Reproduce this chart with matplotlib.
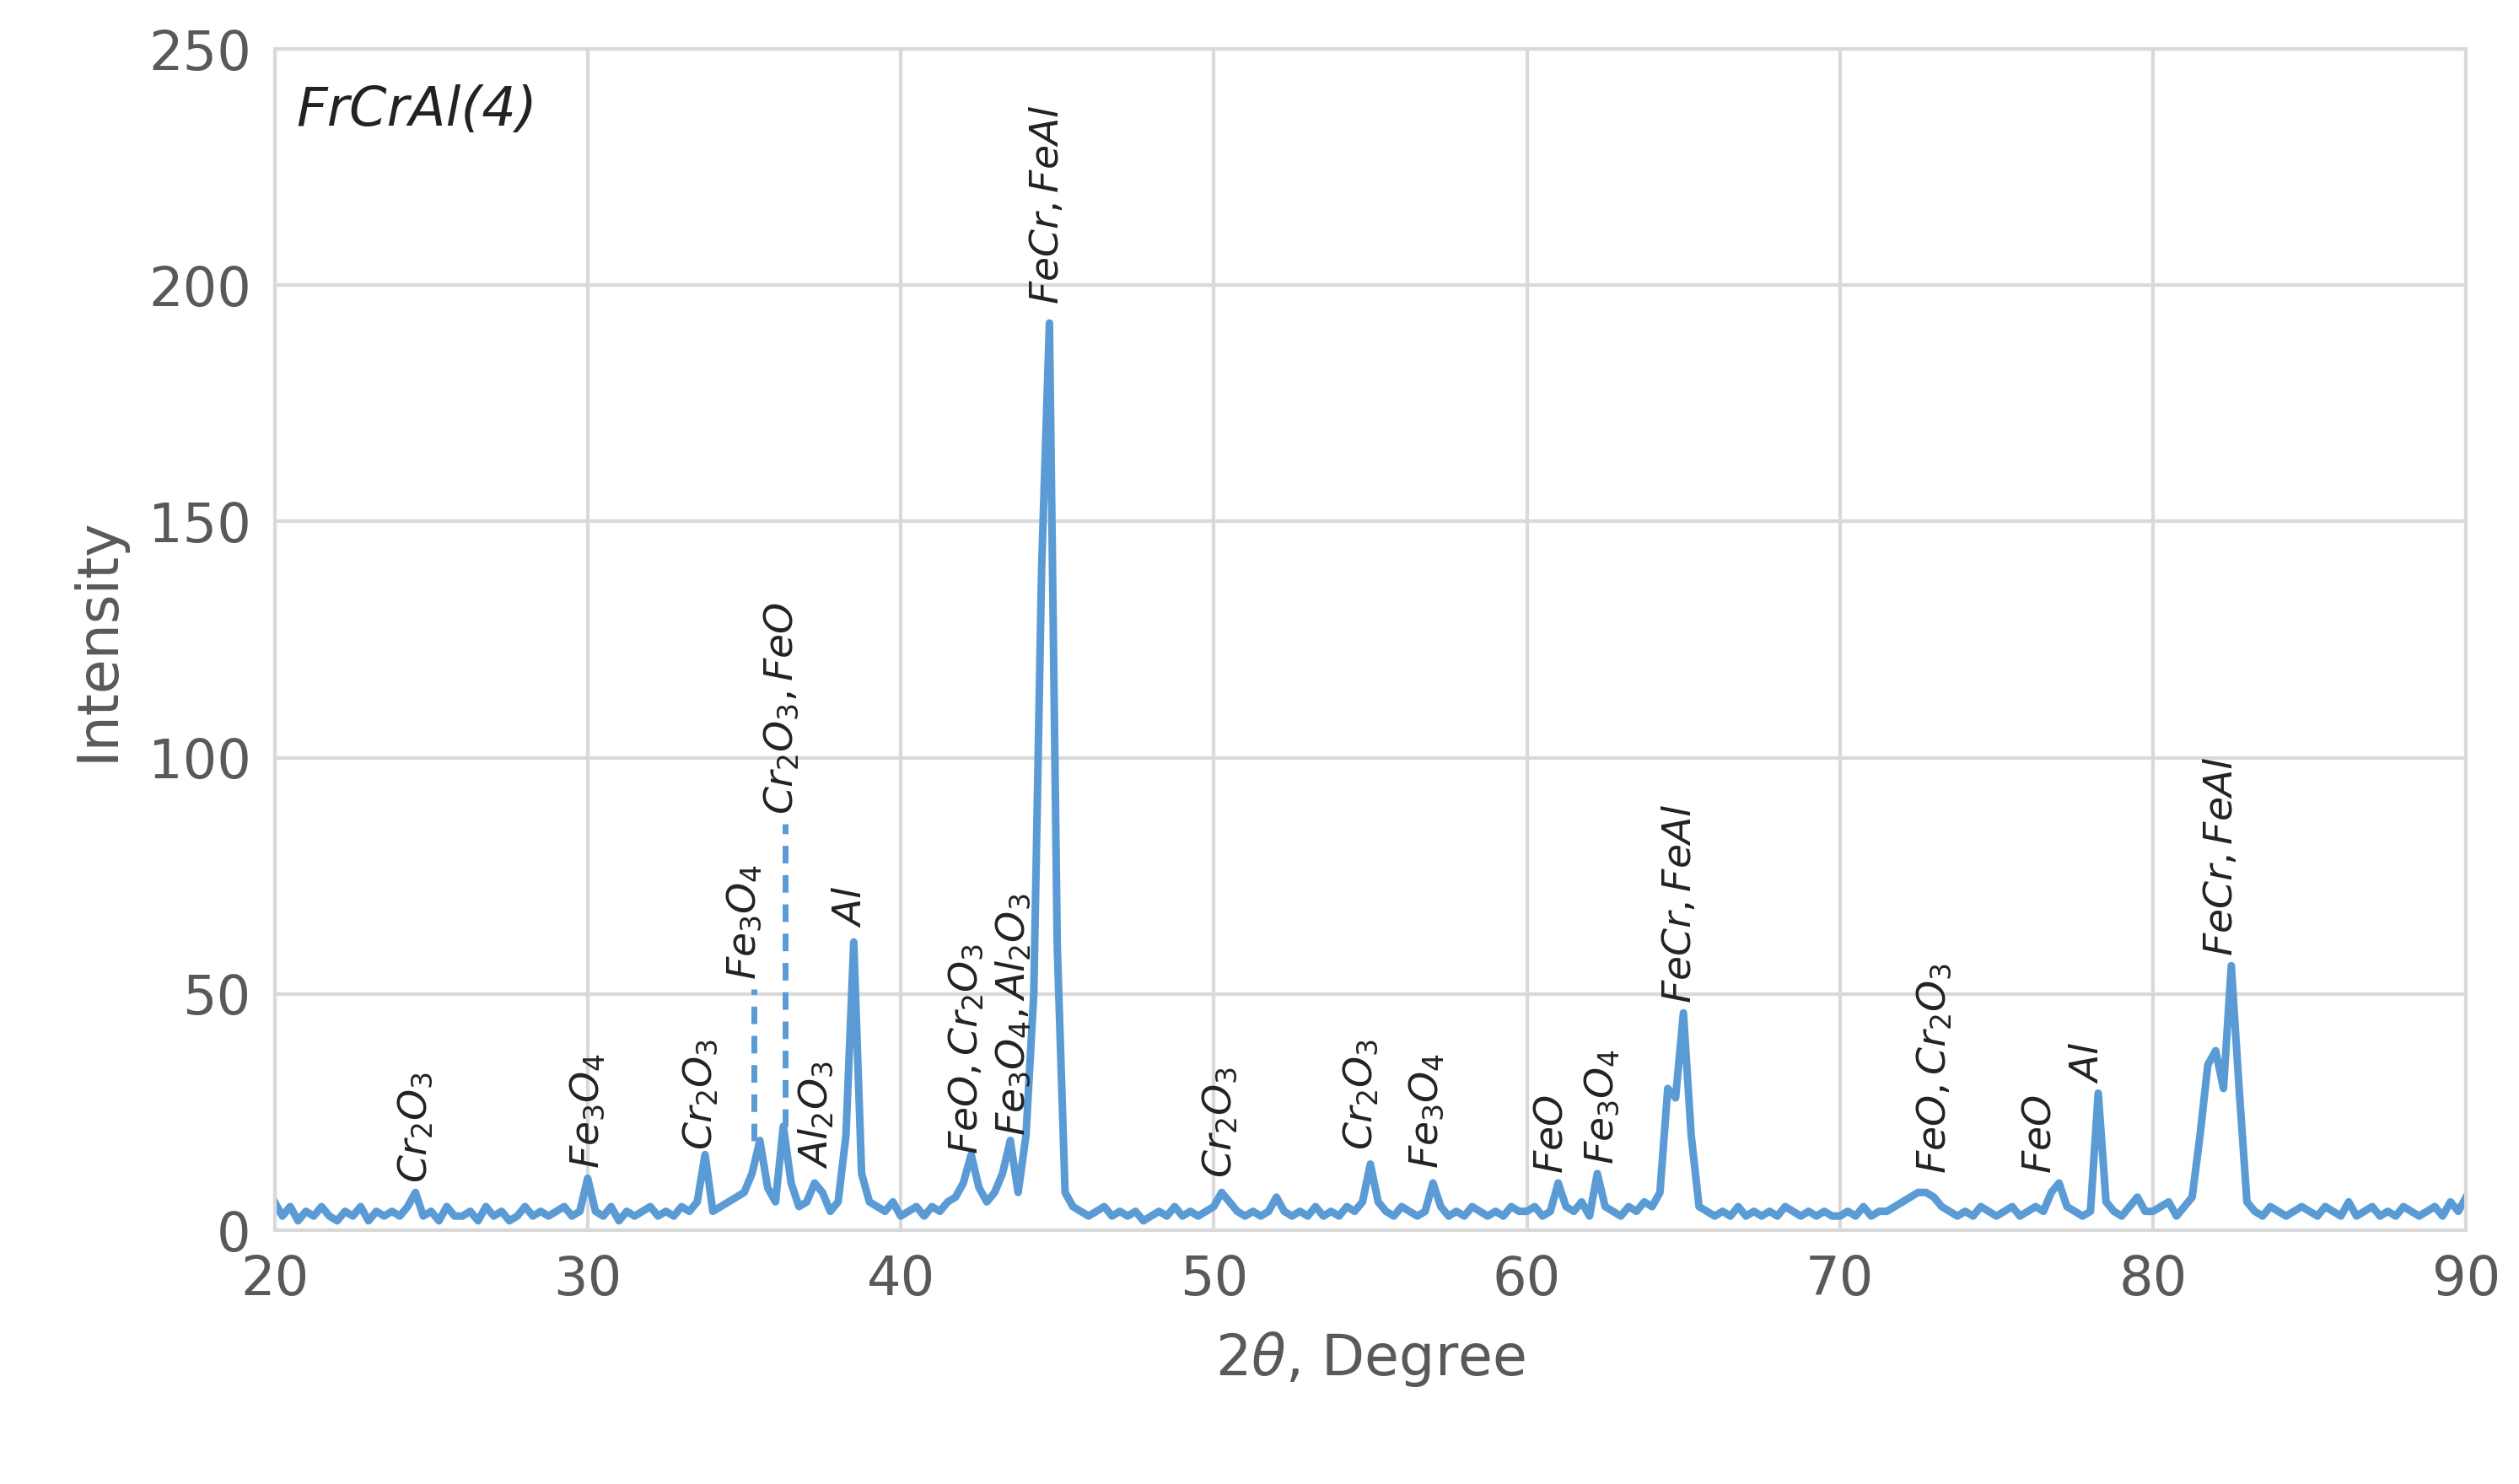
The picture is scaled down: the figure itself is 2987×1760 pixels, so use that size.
import numpy as np
import matplotlib
matplotlib.use("Agg")
import matplotlib.pyplot as plt

two_theta = [20 + 0.25 * i for i in range(281)]
intensity = [
 6,3,5,2,4,3,5,3,2,4,3,5,2,4,3,4,3,5,8,3,
 4,2,5,3,3,4,2,5,3,4,2,3,5,3,4,3,4,5,3,4,
 11,4,3,5,2,4,3,4,5,3,4,3,5,4,6,16,4,5,6,7,
 8,12,19,9,6,22,10,5,6,10,8,4,6,20,61,12,6,5,4,6,
 3,4,5,3,5,4,6,7,10,16,9,6,8,12,19,8,20,50,140,192,
 60,8,5,4,3,4,5,3,4,3,4,2,3,4,3,5,3,4,3,4,
 5,8,6,4,3,4,3,4,7,4,3,4,3,5,3,4,3,5,4,6,
 14,6,4,3,5,4,3,4,10,5,3,4,3,5,4,3,4,3,5,4,
 4,5,3,4,10,5,4,6,3,12,5,4,3,5,4,6,5,8,30,28,
 46,20,5,4,3,4,3,5,3,4,3,4,3,5,4,3,4,3,4,3,
 3,4,3,5,3,4,4,5,6,7,8,8,7,5,4,3,4,3,5,4,
 3,4,5,3,4,5,4,8,10,5,4,3,4,29,6,4,3,5,7,4,
 4,5,6,3,5,7,20,35,38,30,56,30,6,4,3,5,4,3,4,5,
 4,3,5,4,3,6,3,4,5,3,4,3,5,4,3,4,5,3,6,4,
 7]

label_x = [24.5, 30.0, 33.6, 35.0, 36.2, 37.3, 38.4, 42.1, 43.6, 44.7,
           50.2, 54.7, 56.8, 60.8, 62.4, 64.9, 73.0, 76.4, 77.9, 82.2]
label_y = [10, 13, 17, 53, 88, 13, 64, 16, 20, 196,
           11, 17, 13, 12, 14, 48, 12, 12, 31, 58]
label_text = [r'$Cr_2O_3$', r'$Fe_3O_4$', r'$Cr_2O_3$', r'$Fe_3O_4$', r'$Cr_2O_3, FeO$',
              r'$Al_2O_3$', r'$Al$', r'$FeO, Cr_2O_3$', r'$Fe_3O_4, Al_2O_3$', r'$FeCr, FeAl$',
              r'$Cr_2O_3$', r'$Cr_2O_3$', r'$Fe_3O_4$', r'$FeO$', r'$Fe_3O_4$', r'$FeCr, FeAl$',
              r'$FeO, Cr_2O_3$', r'$FeO$', r'$Al$', r'$FeCr, FeAl$']
dash_x = [35.3, 36.3]
dash_y0 = [19, 22]
dash_y1 = [51, 86]

col = '#5B9BD5'
fig = plt.figure(figsize=(29.87, 17.6), dpi=100)
ax = fig.add_axes([0.109, 0.171, 0.870, 0.796])
ax.plot(two_theta, intensity, color=col, lw=6.5)
for x, a, b in zip(dash_x, dash_y0, dash_y1):
    ax.plot([x, x], [a, b], color=col, lw=5, ls=(0, (3, 2)))
for x, y, t in zip(label_x, label_y, label_text):
    ax.text(x, y, t, rotation=90, ha='center', va='bottom', fontsize=34, color='#222222')
ax.text(20.7, 237, 'FrCrAl(4)', fontsize=46, style='italic', ha='left', va='center', color='#222222')
ax.set_xlim(20, 90)
ax.set_ylim(0, 250)
ax.set_xticks(range(20, 91, 10))
ax.set_yticks(range(0, 251, 50))
ax.grid(True, color='#d9d9d9', lw=3)
for s in ax.spines.values():
    s.set_color('#d9d9d9'); s.set_linewidth(3)
ax.tick_params(length=0, labelsize=46, colors='#595959', pad=20)
ax.set_xlabel(r'2$\theta$, Degree', fontsize=48, color='#595959', labelpad=20)
ax.set_ylabel('Intensity', fontsize=48, color='#595959', labelpad=20)
fig.savefig('out.png')
